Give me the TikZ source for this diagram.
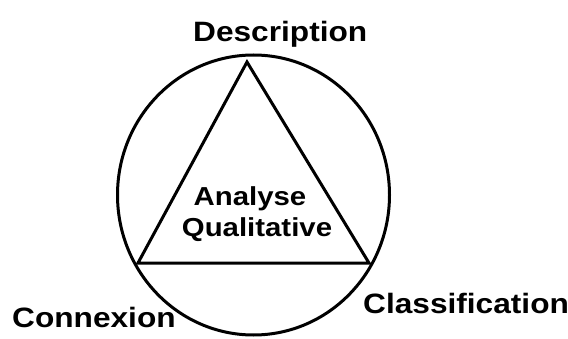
\documentclass[tikz,border=0pt]{standalone}
\usepackage{fontspec}
\setmainfont{Liberation Sans}[FakeStretch=1.13]
\begin{document}
\begin{tikzpicture}[x=1pt,y=1pt,
  shape line/.style={draw=black, line width=3pt},
  lab/.style={inner sep=0pt, font=\bfseries\fontsize{28}{32}\selectfont},
  mid/.style={inner sep=0pt, font=\bfseries\fontsize{26}{30}\selectfont}]
\useasboundingbox (0,0) rectangle (568,338);
\node[lab, anchor=base west] (desc) at (193,296) {Description};
\node[lab, anchor=base west] (conn) at (12,11) {Connexion};
\node[lab, anchor=base west] (clas) at (363,25) {Classification};
\node[mid, anchor=base] (ana) at (250,133) {Analyse};
\node[mid, anchor=base] (qual) at (257,102) {Qualitative};
\coordinate (apex) at (247,276);
\coordinate (bl) at (138,75);
\coordinate (br) at (369,75);
\draw[shape line] (253.5,143) ellipse [x radius=136, y radius=140];
\draw[shape line] (apex) -- (br) -- (bl) -- cycle;
\end{tikzpicture}
\end{document}
